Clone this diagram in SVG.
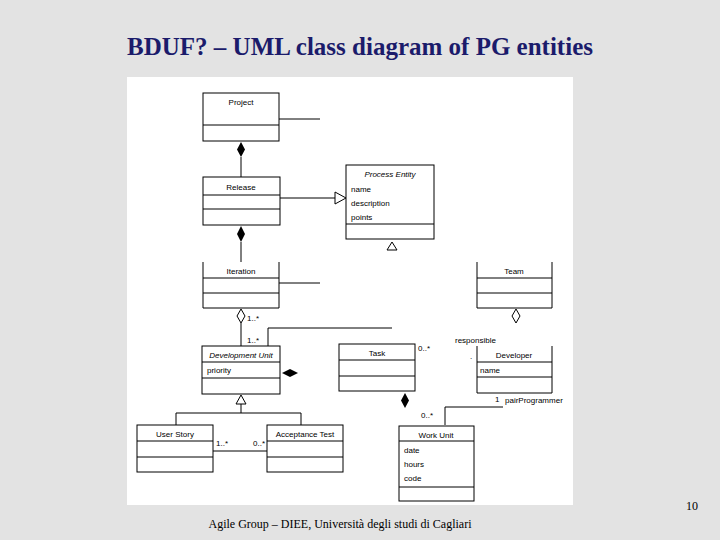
<svg xmlns="http://www.w3.org/2000/svg" width="720" height="540" viewBox="0 0 720 540">
<style>
.b{fill:#fff;stroke:#000;stroke-width:1}
.l{fill:none;stroke:#000;stroke-width:1}
.f{fill:#000}
.h{fill:#fff;stroke:#000;stroke-width:1}
text{font-family:"Liberation Sans",Arial,sans-serif;font-size:8px;fill:#000}
.c{text-anchor:middle}
.i{font-style:italic}
</style>
<rect width="720" height="540" fill="#e3e3e3"/>
<rect x="127" y="77" width="446" height="428" fill="#fff"/>
<text x="360" y="55" class="c" style="font-family:'Liberation Serif',serif;font-size:25px;font-weight:bold;fill:#1b1b6b">BDUF? – UML class diagram of PG entities</text>
<text x="692" y="510" class="c" style="font-family:'Liberation Serif',serif;font-size:12px">10</text>
<text x="340" y="528" class="c" style="font-family:'Liberation Serif',serif;font-size:12px">Agile Group – DIEE, Università degli studi di Cagliari</text>
<g id="connectors">
<path class="l" d="M279 119H320M241 157V177M280 198H335M241 242V262M279 283H320M241 323V346M268 346V328H392M241 404V413M176 425V413H301V425M213 451H267M445 425V407H503"/>
<path class="f" d="M241 142L245 149.5L241 157L237 149.5Z"/>
<path class="f" d="M241 226L245 234L241 242L237 234Z"/>
<path class="h" d="M241 309L245 316L241 323L237 316Z"/>
<path class="h" d="M516 309L520 316L516 323L512 316Z"/>
<path class="f" d="M282 373L290 369L298 373L290 377Z"/>
<path class="f" d="M405 393L409 400.5L405 408L401 400.5Z"/>
<path class="h" d="M335 192L346 198L335 204Z"/>
<path class="h" d="M392 242L397 250H387Z"/>
<path class="h" d="M241 395L246 404H236Z"/>
<text x="247" y="321">1..*</text>
<text x="247" y="343">1..*</text>
<text x="216" y="446">1..*</text>
<text x="253" y="446">0..*</text>
<text x="418" y="351">0..*</text>
<text x="455" y="343">responsible</text>
<text x="470" y="359">.</text>
<text x="495" y="402">1</text>
<text x="505" y="403">pairProgrammer</text>
<text x="421" y="418">0..*</text>
</g>
<g id="project"><rect class="b" x="203" y="93" width="76" height="48"/><path class="l" d="M203 125H279"/><text x="241" y="105" class="c">Project</text></g>
<g id="release"><rect class="b" x="203" y="177" width="77" height="48"/><path class="l" d="M203 195H280M203 209H280"/><text x="241" y="190" class="c">Release</text></g>
<g id="process-entity"><rect class="b" x="346" y="165" width="88" height="74"/><path class="l" d="M346 224H434"/><text x="390" y="177" class="c i">Process Entity</text><text x="351" y="192">name</text><text x="351" y="206">description</text><text x="351" y="220">points</text></g>
<g id="iteration"><rect x="203" y="262" width="76" height="46" fill="#fff"/><path class="l" d="M203 262V308H279V262M203 278H279M203 293H279"/><text x="241" y="274" class="c">Iteration</text></g>
<g id="team"><rect x="477" y="262" width="75" height="46" fill="#fff"/><path class="l" d="M477 262V308H552V262M477 278H552M477 293H552"/><text x="514" y="274" class="c">Team</text></g>
<g id="development-unit"><rect class="b" x="202" y="346" width="78" height="48"/><path class="l" d="M202 362H280M202 378H280"/><text x="241" y="358" class="c i">Development Unit</text><text x="207" y="373">priority</text></g>
<g id="task"><rect class="b" x="339" y="344" width="76" height="47"/><path class="l" d="M339 360H415M339 376H415"/><text x="377" y="356" class="c">Task</text></g>
<g id="developer"><rect x="477" y="346" width="75" height="47" fill="#fff"/><path class="l" d="M477 346V393H552V346M477 362H552M477 377H552"/><text x="514" y="358" class="c">Developer</text><text x="480" y="373">name</text></g>
<g id="user-story"><rect class="b" x="137" y="425" width="76" height="47"/><path class="l" d="M137 441H213M137 457H213"/><text x="175" y="437" class="c">User Story</text></g>
<g id="acceptance-test"><rect class="b" x="267" y="425" width="76" height="47"/><path class="l" d="M267 441H343M267 457H343"/><text x="305" y="437" class="c">Acceptance Test</text></g>
<g id="work-unit"><rect class="b" x="399" y="426" width="75" height="75"/><path class="l" d="M399 441H474M399 487H474"/><text x="436" y="438" class="c">Work Unit</text><text x="404" y="453">date</text><text x="404" y="467">hours</text><text x="404" y="481">code</text></g>
</svg>
